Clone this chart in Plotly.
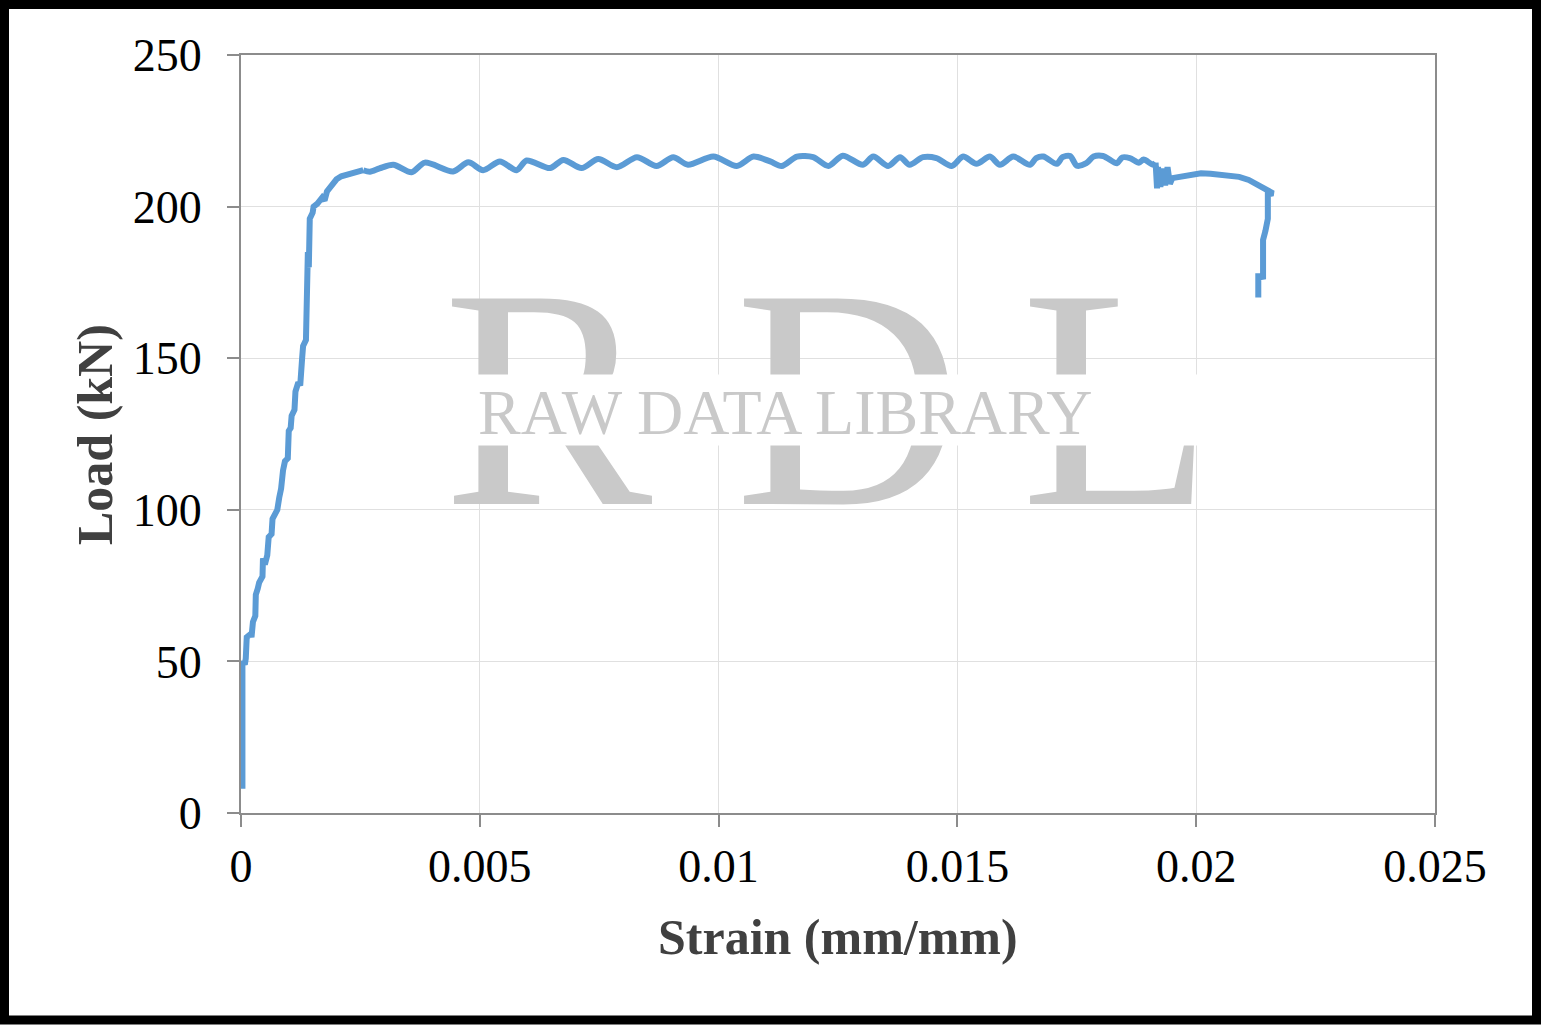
import plotly.graph_objects as go

# ---- data ----
# rising (elastic / stepped) part
strain_rise = [
    0.00003, 0.00003, 0.00002, 0.00004, 0.00003, 0.00008, 0.00010, 0.00012, 0.00020, 0.00022,
    0.00025, 0.00030, 0.00031, 0.00035, 0.00038, 0.00045, 0.00046, 0.00050, 0.00055, 0.00058,
    0.00064, 0.00066, 0.00072, 0.00076, 0.00080, 0.00084, 0.00088, 0.00092, 0.00098, 0.00100,
    0.00104, 0.00106, 0.00112, 0.00114, 0.00120, 0.00124, 0.00128, 0.00130, 0.00136, 0.00138,
    0.00140, 0.00142, 0.00144, 0.00150, 0.00152, 0.00160, 0.00170, 0.00175, 0.00180, 0.00190,
    0.00200, 0.00210, 0.00221, 0.00240, 0.00256,
]
load_rise = [
    8, 25, 12, 40, 50, 49, 51, 58, 59, 58,
    63, 65, 72, 74, 76, 78, 84, 82, 85, 91,
    92, 97, 99, 100, 104, 107, 113, 116, 117, 126,
    127, 131, 133, 139, 142, 141, 150, 154, 156, 175,
    185, 180, 196, 198, 200, 201, 203, 202, 205, 207,
    209, 210, 210.5, 211.5, 212,
]
# plateau (wavy) part
strain_plateau = [
    0.00256, 0.00270, 0.00290, 0.00319, 0.00357, 0.00385,
    0.00444, 0.00476, 0.00507, 0.00542, 0.00577, 0.00598, 0.00647, 0.00675, 0.00713, 0.00748,
    0.00787, 0.00829, 0.00870, 0.00905, 0.00936, 0.00989, 0.01038, 0.01073, 0.01108, 0.01132,
    0.01164, 0.01198, 0.01230, 0.01260, 0.01302, 0.01324, 0.01355, 0.01380, 0.01400, 0.01428,
    0.01456, 0.01488, 0.01512, 0.01540, 0.01568, 0.01589, 0.01617, 0.01652, 0.01665, 0.01680,
    0.01708, 0.01720, 0.01736, 0.01750, 0.01770, 0.01785, 0.01805, 0.01834, 0.01845, 0.01861,
    0.01880, 0.01890, 0.01910, 0.01915,
]
load_plateau = [
    212, 211.5, 212.6, 213.8, 211.3, 214.5,
    211.6, 214.6, 212.0, 214.9, 212.0, 215.2, 212.7, 215.4, 212.7, 215.7,
    213.0, 216.3, 213.4, 216.3, 213.8, 216.5, 213.4, 216.5, 214.9, 213.4,
    216.5, 216.3, 213.4, 216.8, 213.8, 216.5, 213.4, 216.3, 213.8, 216.3,
    216.0, 213.4, 216.5, 214.1, 216.5, 213.8, 216.5, 213.8, 216.0, 216.5,
    214.1, 216.3, 216.7, 213.5, 214.3, 216.5, 216.7, 214.3, 216.2, 216.0,
    214.5, 215.5, 213.8, 214.5,
]
# drop, second plateau and failure tail
strain_tail = [
    0.01915, 0.01918, 0.01920, 0.01925, 0.01930, 0.01935, 0.01940,
    0.01945, 0.01950, 0.01970, 0.01990, 0.02010, 0.02030, 0.02050, 0.02070, 0.02090, 0.02110,
    0.02130, 0.02140, 0.02150, 0.02161, 0.02150, 0.02150, 0.02145, 0.02140, 0.02140, 0.02138,
    0.02130, 0.02130,
]
load_tail = [
    214.5, 206.0, 213.0, 206.5, 212.5, 207.0, 213.0,
    207.5, 209.4, 210.0, 210.8, 211.0, 210.8, 210.5, 210.2, 209.8, 208.8,
    207.2, 206.0, 205.5, 204.4, 204.0, 196.0, 192.0, 189.0, 176.0, 177.0,
    177.0, 170.0,
]

x_tickvals = [0, 0.005, 0.01, 0.015, 0.02, 0.025]
x_ticktext = ["0", "0.005", "0.01", "0.015", "0.02", "0.025"]
y_tickvals = [0, 50, 100, 150, 200, 250]
y_ticktext = ["0", "50", "100", "150", "200", "250"]

# ---- layout geometry (pixels) ----
W, H = 1541, 1025
L, R, T, B = 241, 106, 55, 212
PW, PH = W - L - R, H - T - B


def px(xp):
    return (xp - L) / PW


def py(yp):
    return (H - B - yp) / PH


SERIF = "Liberation Serif, Times New Roman, serif"
AXIS_GRAY = "#8c8c8c"
WM = "#c9c9c9"
LINE = "#5b9bd5"

fig = go.Figure()
fig.add_trace(go.Scatter(x=strain_rise, y=load_rise, mode="lines",
                         line=dict(color=LINE, width=6), showlegend=False, hoverinfo="skip"))
fig.add_trace(go.Scatter(x=strain_plateau, y=load_plateau, mode="lines",
                         line=dict(color=LINE, width=6, shape="spline", smoothing=0.8),
                         showlegend=False, hoverinfo="skip"))
fig.add_trace(go.Scatter(x=strain_tail, y=load_tail, mode="lines",
                         line=dict(color=LINE, width=6), showlegend=False, hoverinfo="skip"))

axis_common = dict(
    showline=True, linecolor=AXIS_GRAY, linewidth=2, mirror=True,
    ticks="outside", ticklen=12, tickwidth=2, tickcolor=AXIS_GRAY,
    showgrid=True, gridcolor="#e0e0e0", gridwidth=1,
    zeroline=False,
    tickfont=dict(family=SERIF, size=46, color="#000000"),
)

fig.update_xaxes(range=[0, 0.025], tickmode="array", tickvals=x_tickvals,
                 ticktext=x_ticktext, **axis_common)
fig.update_yaxes(range=[0, 250], tickmode="array", tickvals=y_tickvals,
                 ticktext=y_ticktext, ticklabelstandoff=16, **axis_common)

annotations = []
# watermark big letters
for letter, cx in (("R", 548), ("D", 848), ("L", 1117)):
    annotations.append(dict(
        text=letter, x=px(cx), y=py(398), xref="paper", yref="paper",
        xanchor="center", yanchor="middle", showarrow=False,
        font=dict(family=SERIF, size=314, color=WM),
    ))
# white band cutting the big letters
annotations.append(dict(
    text=" ", x=px(828), y=py(410), xref="paper", yref="paper",
    xanchor="center", yanchor="middle", showarrow=False,
    font=dict(family=SERIF, size=20, color=WM),
    bgcolor="rgba(255,255,255,1)", width=760, height=70, borderpad=0,
))
# watermark text
annotations.append(dict(
    text="RAW DATA LIBRARY", x=px(785), y=py(412), xref="paper", yref="paper",
    xanchor="center", yanchor="middle", showarrow=False,
    font=dict(family=SERIF, size=64, color=WM),
))
# axis titles
annotations.append(dict(
    text="Load (kN)", x=px(95), y=py(435), xref="paper", yref="paper",
    xanchor="center", yanchor="middle", showarrow=False, textangle=-90,
    font=dict(family=SERIF, size=50, color="#404040", weight="bold"),
))
annotations.append(dict(
    text="Strain (mm/mm)", x=px(838), y=py(937), xref="paper", yref="paper",
    xanchor="center", yanchor="middle", showarrow=False,
    font=dict(family=SERIF, size=50, color="#404040", weight="bold"),
))

shapes = [dict(
    type="rect", xref="paper", yref="paper",
    x0=px(4.5), x1=px(W - 4.5), y0=py(H - 5), y1=py(4.5),
    line=dict(color="#000000", width=9), fillcolor="rgba(0,0,0,0)", layer="above",
)]

fig.update_layout(
    width=W, height=H,
    margin=dict(l=L, r=R, t=T, b=B, pad=0),
    paper_bgcolor="#ffffff", plot_bgcolor="#ffffff",
    annotations=annotations, shapes=shapes,
    showlegend=False,
)

fig.write_html("out.html", config={"displayModeBar": False},
               post_script="document.body.style.margin='0';document.body.style.overflow='hidden';")
